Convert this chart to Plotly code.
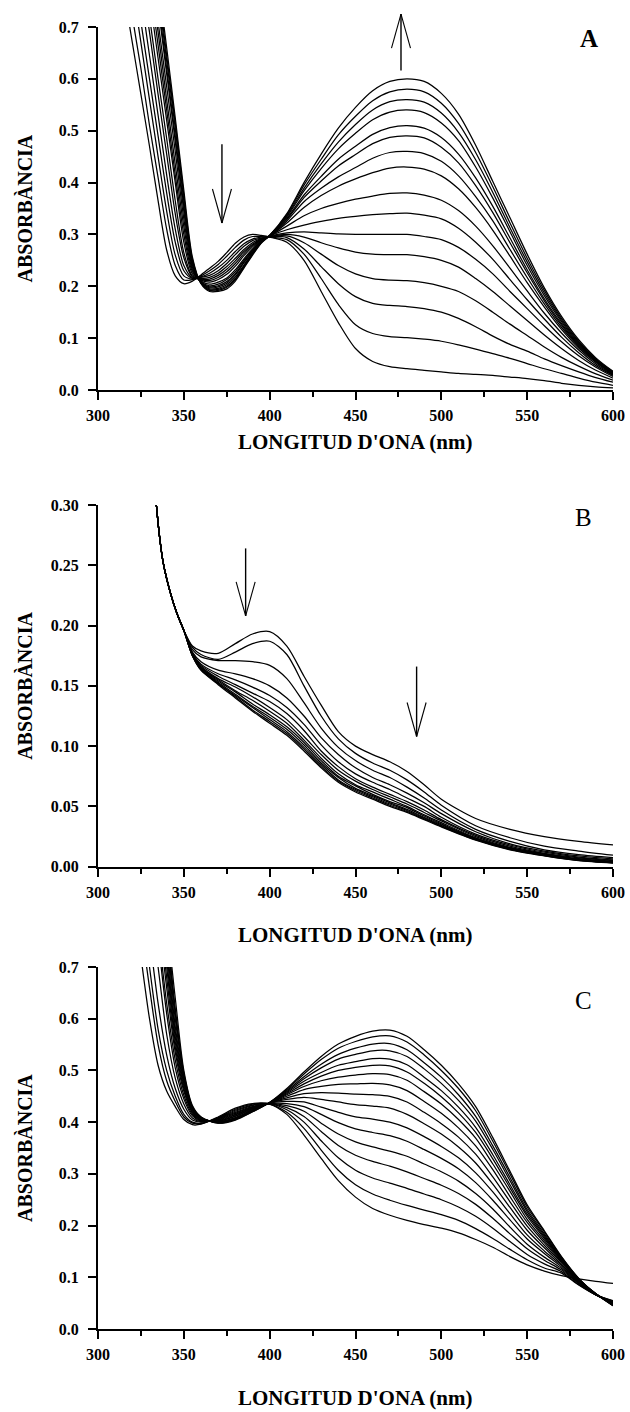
import plotly.graph_objects as go

# ---------------- Panel A : spectra (absorbance vs wavelength) ----------------
WAVELENGTH_A = [315, 320, 325, 330, 335, 340, 345, 350, 355,
                360, 365, 370, 375, 380, 385, 390, 395, 400,
                410, 420, 430, 440, 450, 460, 470, 480, 490, 500,
                510, 520, 530, 540, 550, 560, 570, 580, 590, 600]

SPECTRA_A = [
    [0.77, 0.67, 0.57, 0.47, 0.365, 0.27, 0.22, 0.205, 0.21,
     0.222, 0.235, 0.248, 0.265, 0.283, 0.295, 0.300, 0.298, 0.295,
     0.285, 0.250, 0.190, 0.130, 0.080, 0.055, 0.045, 0.041, 0.038, 0.035,
     0.032, 0.030, 0.028, 0.025, 0.022, 0.018, 0.013, 0.009, 0.006, 0.004],
    [0.83, 0.72, 0.62, 0.51, 0.41, 0.31, 0.24, 0.212, 0.213,
     0.220, 0.230, 0.242, 0.258, 0.275, 0.289, 0.296, 0.296, 0.295,
     0.290, 0.262, 0.215, 0.165, 0.126, 0.109, 0.103, 0.101, 0.098, 0.094,
     0.087, 0.079, 0.070, 0.061, 0.051, 0.041, 0.032, 0.023, 0.015, 0.009],
    [0.89, 0.78, 0.67, 0.56, 0.45, 0.345, 0.26, 0.22, 0.214,
     0.218, 0.225, 0.236, 0.250, 0.267, 0.282, 0.291, 0.295, 0.296,
     0.294, 0.272, 0.238, 0.205, 0.180, 0.167, 0.163, 0.161, 0.157, 0.150,
     0.138, 0.122, 0.104, 0.088, 0.075, 0.060, 0.047, 0.035, 0.024, 0.015],
    [0.93, 0.82, 0.71, 0.60, 0.49, 0.38, 0.285, 0.23, 0.215,
     0.217, 0.221, 0.230, 0.244, 0.261, 0.277, 0.288, 0.293, 0.296,
     0.297, 0.284, 0.262, 0.240, 0.224, 0.215, 0.212, 0.211, 0.207, 0.200,
     0.190, 0.172, 0.150, 0.127, 0.105, 0.083, 0.063, 0.046, 0.031, 0.019],
    [0.98, 0.87, 0.76, 0.645, 0.53, 0.415, 0.31, 0.24, 0.216,
     0.215, 0.217, 0.225, 0.238, 0.254, 0.271, 0.284, 0.292, 0.296,
     0.300, 0.295, 0.284, 0.274, 0.266, 0.262, 0.261, 0.261, 0.257, 0.250,
     0.237, 0.215, 0.190, 0.162, 0.134, 0.106, 0.080, 0.057, 0.038, 0.023],
    [1.03, 0.92, 0.80, 0.69, 0.57, 0.455, 0.34, 0.255, 0.218,
     0.214, 0.214, 0.221, 0.233, 0.249, 0.267, 0.281, 0.291, 0.297,
     0.303, 0.305, 0.303, 0.301, 0.300, 0.300, 0.300, 0.300, 0.296, 0.290,
     0.275, 0.252, 0.224, 0.190, 0.157, 0.124, 0.093, 0.066, 0.044, 0.026],
    [1.08, 0.96, 0.84, 0.72, 0.60, 0.485, 0.365, 0.265, 0.22,
     0.213, 0.211, 0.217, 0.228, 0.244, 0.263, 0.279, 0.290, 0.297,
     0.309, 0.318, 0.325, 0.331, 0.335, 0.338, 0.340, 0.341, 0.337, 0.330,
     0.312, 0.285, 0.252, 0.213, 0.174, 0.137, 0.102, 0.072, 0.047, 0.028],
    [1.12, 1.00, 0.88, 0.76, 0.64, 0.52, 0.40, 0.285, 0.224,
     0.212, 0.208, 0.213, 0.223, 0.239, 0.259, 0.276, 0.289, 0.297,
     0.316, 0.336, 0.350, 0.360, 0.368, 0.374, 0.379, 0.380, 0.376, 0.366,
     0.346, 0.316, 0.278, 0.235, 0.191, 0.148, 0.110, 0.077, 0.050, 0.029],
    [1.15, 1.03, 0.91, 0.79, 0.665, 0.54, 0.415, 0.30, 0.228,
     0.210, 0.204, 0.208, 0.216, 0.232, 0.253, 0.272, 0.288, 0.297,
     0.322, 0.352, 0.375, 0.393, 0.407, 0.419, 0.428, 0.430, 0.426, 0.413,
     0.388, 0.352, 0.308, 0.258, 0.207, 0.160, 0.117, 0.081, 0.053, 0.030],
    [1.17, 1.05, 0.93, 0.81, 0.69, 0.56, 0.435, 0.315, 0.232,
     0.209, 0.201, 0.204, 0.213, 0.228, 0.250, 0.270, 0.287, 0.297,
     0.326, 0.363, 0.389, 0.411, 0.429, 0.447, 0.458, 0.460, 0.456, 0.441,
     0.413, 0.373, 0.326, 0.271, 0.217, 0.166, 0.121, 0.084, 0.055, 0.031],
    [1.20, 1.08, 0.96, 0.835, 0.71, 0.585, 0.46, 0.33, 0.236,
     0.208, 0.199, 0.201, 0.209, 0.224, 0.247, 0.268, 0.286, 0.297,
     0.329, 0.371, 0.403, 0.432, 0.454, 0.475, 0.487, 0.490, 0.486, 0.468,
     0.438, 0.394, 0.342, 0.284, 0.226, 0.172, 0.125, 0.086, 0.056, 0.032],
    [1.22, 1.10, 0.98, 0.86, 0.74, 0.61, 0.48, 0.345, 0.24,
     0.208, 0.197, 0.199, 0.206, 0.222, 0.245, 0.266, 0.285, 0.298,
     0.331, 0.376, 0.412, 0.445, 0.470, 0.493, 0.506, 0.510, 0.505, 0.487,
     0.455, 0.409, 0.354, 0.293, 0.232, 0.176, 0.128, 0.088, 0.057, 0.033],
    [1.23, 1.11, 0.99, 0.87, 0.75, 0.62, 0.49, 0.355, 0.244,
     0.207, 0.195, 0.196, 0.203, 0.218, 0.241, 0.264, 0.285, 0.298,
     0.334, 0.384, 0.427, 0.465, 0.495, 0.521, 0.536, 0.540, 0.535, 0.515,
     0.481, 0.430, 0.370, 0.305, 0.240, 0.182, 0.132, 0.090, 0.058, 0.034],
    [1.24, 1.12, 1.00, 0.88, 0.765, 0.635, 0.505, 0.365, 0.248,
     0.206, 0.193, 0.194, 0.200, 0.215, 0.239, 0.263, 0.284, 0.298,
     0.336, 0.389, 0.436, 0.478, 0.512, 0.540, 0.556, 0.560, 0.555, 0.534,
     0.497, 0.444, 0.381, 0.313, 0.247, 0.187, 0.135, 0.092, 0.059, 0.034],
    [1.25, 1.13, 1.01, 0.89, 0.78, 0.645, 0.515, 0.375, 0.252,
     0.206, 0.192, 0.192, 0.198, 0.213, 0.237, 0.261, 0.284, 0.298,
     0.338, 0.395, 0.445, 0.492, 0.528, 0.558, 0.575, 0.580, 0.575, 0.553,
     0.514, 0.458, 0.392, 0.322, 0.254, 0.192, 0.138, 0.094, 0.060, 0.035],
    [1.26, 1.14, 1.02, 0.90, 0.79, 0.66, 0.525, 0.385, 0.256,
     0.205, 0.190, 0.190, 0.195, 0.210, 0.235, 0.260, 0.283, 0.298,
     0.340, 0.400, 0.455, 0.505, 0.545, 0.577, 0.595, 0.600, 0.595, 0.572,
     0.532, 0.472, 0.402, 0.332, 0.262, 0.197, 0.142, 0.097, 0.062, 0.036],
]

# ---------------- Panel B ----------------
WAVELENGTH_B = [332, 334, 336, 338, 342, 346, 350,
                355, 360, 370, 380, 390, 400, 410, 420, 430, 440, 450,
                460, 470, 480, 490, 500, 520, 540, 560, 580, 600]

# every spectrum in B follows the same steep edge below 350 nm
B_SHARED_EDGE = [0.335, 0.300, 0.272, 0.252, 0.228, 0.210, 0.196]

SPECTRA_B_TAILS = [
    [0.183, 0.179, 0.177, 0.185, 0.193, 0.195, 0.183, 0.158, 0.134, 0.112, 0.100,
     0.093, 0.087, 0.079, 0.068, 0.056, 0.040, 0.031, 0.025, 0.021, 0.018],
    [0.182, 0.176, 0.172, 0.178, 0.185, 0.187, 0.176, 0.150, 0.125, 0.106, 0.094,
     0.086, 0.080, 0.072, 0.062, 0.051, 0.034, 0.024, 0.017, 0.013, 0.0095],
    [0.180, 0.174, 0.171, 0.171, 0.170, 0.167, 0.156, 0.136, 0.115, 0.099, 0.088,
     0.080, 0.074, 0.066, 0.057, 0.047, 0.031, 0.021, 0.014, 0.010, 0.0075],
    [0.178, 0.170, 0.163, 0.160, 0.156, 0.150, 0.140, 0.125, 0.107, 0.093, 0.082,
     0.074, 0.068, 0.061, 0.053, 0.044, 0.029, 0.019, 0.013, 0.009, 0.0065],
    [0.177, 0.168, 0.160, 0.155, 0.149, 0.142, 0.132, 0.118, 0.101, 0.087, 0.077,
     0.070, 0.064, 0.057, 0.050, 0.041, 0.027, 0.018, 0.012, 0.008, 0.0056],
    [0.177, 0.167, 0.158, 0.151, 0.144, 0.137, 0.127, 0.113, 0.096, 0.083, 0.073,
     0.066, 0.060, 0.054, 0.047, 0.039, 0.026, 0.017, 0.011, 0.0073, 0.005],
    [0.176, 0.166, 0.156, 0.149, 0.141, 0.132, 0.122, 0.108, 0.093, 0.080, 0.071,
     0.064, 0.058, 0.052, 0.045, 0.038, 0.025, 0.016, 0.0107, 0.0067, 0.0045],
    [0.176, 0.165, 0.155, 0.146, 0.138, 0.129, 0.119, 0.105, 0.090, 0.077, 0.068,
     0.062, 0.056, 0.050, 0.043, 0.0365, 0.024, 0.0156, 0.0103, 0.0063, 0.0041],
    [0.176, 0.165, 0.154, 0.145, 0.135, 0.126, 0.116, 0.103, 0.088, 0.075, 0.067,
     0.060, 0.054, 0.049, 0.042, 0.0355, 0.0236, 0.0151, 0.0099, 0.0059, 0.0038],
    [0.175, 0.164, 0.153, 0.143, 0.133, 0.124, 0.114, 0.101, 0.086, 0.074, 0.065,
     0.059, 0.053, 0.0475, 0.041, 0.0348, 0.0231, 0.0148, 0.0096, 0.0056, 0.0036],
    [0.175, 0.164, 0.152, 0.142, 0.132, 0.122, 0.112, 0.099, 0.0845, 0.072, 0.064,
     0.058, 0.052, 0.0466, 0.0404, 0.0341, 0.0227, 0.0145, 0.0094, 0.0054, 0.0034],
    [0.175, 0.163, 0.152, 0.141, 0.130, 0.1205, 0.1105, 0.0975, 0.083, 0.071, 0.063,
     0.057, 0.051, 0.0458, 0.0397, 0.0335, 0.0224, 0.0143, 0.0092, 0.0052, 0.0032],
    [0.175, 0.163, 0.151, 0.140, 0.129, 0.119, 0.109, 0.096, 0.082, 0.070, 0.062,
     0.056, 0.050, 0.045, 0.039, 0.033, 0.022, 0.014, 0.009, 0.005, 0.003],
]

# ---------------- Panel C ----------------
WAVELENGTH_C = [325, 330, 335, 340, 345, 350, 355,
                360, 370, 380, 390, 400,
                410, 420, 430, 440, 450, 460, 470, 480, 490, 500,
                510, 520, 530, 540, 550, 560, 570, 580, 590, 600]

SPECTRA_C = [
    [0.72, 0.60, 0.51, 0.46, 0.43, 0.405, 0.395,
     0.396, 0.410, 0.427, 0.436, 0.435,
     0.415, 0.375, 0.330, 0.287, 0.255, 0.233, 0.220, 0.210, 0.202, 0.195,
     0.186, 0.173, 0.158, 0.140, 0.124, 0.112, 0.103, 0.097, 0.092, 0.088],
    [0.78, 0.66, 0.55, 0.48, 0.44, 0.41, 0.398,
     0.397, 0.409, 0.425, 0.435, 0.435,
     0.419, 0.388, 0.346, 0.307, 0.279, 0.261, 0.249, 0.239, 0.230, 0.221,
     0.210, 0.194, 0.175, 0.154, 0.134, 0.118, 0.108, 0.085, 0.066, 0.055],
    [0.83, 0.70, 0.58, 0.50, 0.45, 0.415, 0.40,
     0.398, 0.408, 0.423, 0.433, 0.436,
     0.424, 0.400, 0.364, 0.331, 0.307, 0.292, 0.282, 0.272, 0.261, 0.250,
     0.236, 0.218, 0.195, 0.169, 0.144, 0.126, 0.111, 0.086, 0.066, 0.054],
    [0.89, 0.76, 0.63, 0.53, 0.465, 0.425, 0.404,
     0.400, 0.407, 0.421, 0.432, 0.436,
     0.428, 0.411, 0.382, 0.355, 0.336, 0.324, 0.315, 0.304, 0.291, 0.278,
     0.262, 0.241, 0.214, 0.184, 0.155, 0.133, 0.114, 0.088, 0.066, 0.053],
    [0.95, 0.82, 0.70, 0.57, 0.485, 0.435, 0.408,
     0.401, 0.406, 0.419, 0.430, 0.436,
     0.432, 0.421, 0.398, 0.377, 0.362, 0.352, 0.344, 0.334, 0.319, 0.304,
     0.286, 0.262, 0.232, 0.197, 0.164, 0.139, 0.117, 0.089, 0.066, 0.052],
    [1.00, 0.87, 0.75, 0.61, 0.505, 0.445, 0.412,
     0.402, 0.405, 0.417, 0.429, 0.436,
     0.436, 0.430, 0.415, 0.399, 0.387, 0.380, 0.374, 0.363, 0.347, 0.330,
     0.310, 0.283, 0.249, 0.211, 0.174, 0.146, 0.120, 0.090, 0.067, 0.051],
    [1.03, 0.90, 0.77, 0.63, 0.52, 0.452, 0.415,
     0.403, 0.404, 0.415, 0.428, 0.437,
     0.440, 0.439, 0.429, 0.419, 0.410, 0.406, 0.400, 0.389, 0.372, 0.353,
     0.331, 0.302, 0.265, 0.223, 0.182, 0.151, 0.123, 0.091, 0.067, 0.050],
    [1.06, 0.93, 0.80, 0.66, 0.535, 0.46, 0.418,
     0.404, 0.403, 0.414, 0.427, 0.437,
     0.444, 0.448, 0.444, 0.439, 0.434, 0.431, 0.427, 0.415, 0.397, 0.377,
     0.352, 0.321, 0.280, 0.235, 0.191, 0.157, 0.125, 0.092, 0.067, 0.050],
    [1.08, 0.95, 0.82, 0.68, 0.545, 0.465, 0.42,
     0.405, 0.402, 0.412, 0.426, 0.437,
     0.447, 0.455, 0.457, 0.456, 0.454, 0.453, 0.450, 0.439, 0.419, 0.397,
     0.371, 0.338, 0.294, 0.246, 0.199, 0.162, 0.128, 0.093, 0.067, 0.049],
    [1.10, 0.97, 0.84, 0.70, 0.555, 0.47, 0.422,
     0.406, 0.402, 0.411, 0.425, 0.437,
     0.450, 0.463, 0.469, 0.473, 0.474, 0.475, 0.472, 0.461, 0.440, 0.417,
     0.389, 0.354, 0.308, 0.256, 0.206, 0.167, 0.130, 0.094, 0.067, 0.048],
    [1.11, 0.98, 0.85, 0.715, 0.565, 0.475, 0.424,
     0.407, 0.401, 0.409, 0.424, 0.437,
     0.453, 0.469, 0.480, 0.487, 0.491, 0.494, 0.492, 0.481, 0.459, 0.435,
     0.405, 0.369, 0.319, 0.266, 0.212, 0.171, 0.132, 0.095, 0.067, 0.048],
    [1.12, 0.99, 0.86, 0.73, 0.575, 0.48, 0.426,
     0.407, 0.400, 0.408, 0.423, 0.437,
     0.455, 0.474, 0.489, 0.500, 0.506, 0.510, 0.509, 0.497, 0.475, 0.449,
     0.418, 0.380, 0.329, 0.273, 0.218, 0.175, 0.133, 0.095, 0.068, 0.047],
    [1.13, 1.00, 0.87, 0.745, 0.585, 0.485, 0.427,
     0.408, 0.400, 0.408, 0.422, 0.438,
     0.457, 0.479, 0.496, 0.510, 0.517, 0.523, 0.522, 0.511, 0.487, 0.461,
     0.429, 0.390, 0.337, 0.279, 0.222, 0.178, 0.135, 0.096, 0.068, 0.047],
    [1.14, 1.01, 0.88, 0.76, 0.60, 0.49, 0.428,
     0.408, 0.399, 0.407, 0.422, 0.438,
     0.459, 0.484, 0.505, 0.522, 0.531, 0.538, 0.538, 0.527, 0.503, 0.475,
     0.442, 0.402, 0.347, 0.287, 0.227, 0.181, 0.136, 0.096, 0.068, 0.046],
    [1.15, 1.02, 0.89, 0.77, 0.61, 0.492, 0.429,
     0.409, 0.399, 0.406, 0.421, 0.438,
     0.461, 0.488, 0.512, 0.531, 0.543, 0.551, 0.552, 0.540, 0.515, 0.487,
     0.453, 0.411, 0.354, 0.293, 0.231, 0.184, 0.137, 0.097, 0.068, 0.046],
    [1.16, 1.03, 0.90, 0.78, 0.62, 0.495, 0.43,
     0.410, 0.398, 0.405, 0.420, 0.438,
     0.463, 0.493, 0.521, 0.543, 0.556, 0.565, 0.567, 0.555, 0.530, 0.500,
     0.465, 0.422, 0.363, 0.300, 0.236, 0.188, 0.139, 0.098, 0.068, 0.045],
    [1.20, 1.04, 0.91, 0.79, 0.64, 0.50, 0.432,
     0.410, 0.398, 0.404, 0.420, 0.438,
     0.465, 0.497, 0.527, 0.551, 0.566, 0.576, 0.578, 0.566, 0.540, 0.510,
     0.474, 0.430, 0.370, 0.305, 0.240, 0.190, 0.140, 0.098, 0.068, 0.045],
]

# ---------------- axes, labels, arrows ----------------
X_RANGE = [300, 600]
X_TICKS = [300, 350, 400, 450, 500, 550, 600]
Y_RANGE_A = [0, 0.7]
Y_RANGE_B = [0, 0.30]
Y_RANGE_C = [0, 0.7]
Y_DTICK_AC = 0.1
Y_DTICK_B = 0.05

X_TITLE = "LONGITUD D'ONA (nm)"
Y_TITLE = "ABSORBÀNCIA"
PANEL_LETTERS = ["A", "B", "C"]

# (wavelength, absorbance at tail, absorbance at tip)
ARROWS_A = [(372.2, 0.474, 0.322), (476.5, 0.616, 0.725)]
ARROWS_B = [(386.0, 0.264, 0.208), (485.6, 0.166, 0.108)]

W, H = 630, 1412
X_DOMAIN = [98 / W, 613 / W]
# pixel rows (top, bottom) of each plotting area
PANEL_ROWS = [(27, 390), (505, 866.7), (967, 1329)]
TITLE_ROWS = [442, 935, 1398]
LETTER_POS = [(586, 0.678), (583, 0.290), (583, 0.636)]

FONT = "Liberation Serif"
TICK_FONT = dict(family=FONT, size=16, color="black", weight="bold")


def paper_y(py):
    return (H - py) / H


fig = go.Figure()

panels = [
    (WAVELENGTH_A, SPECTRA_A, Y_RANGE_A, Y_DTICK_AC, ".1f"),
    (WAVELENGTH_B, [B_SHARED_EDGE + tail for tail in SPECTRA_B_TAILS], Y_RANGE_B, Y_DTICK_B, ".2f"),
    (WAVELENGTH_C, SPECTRA_C, Y_RANGE_C, Y_DTICK_AC, ".1f"),
]

layout_axes = {}
for i, (wl, spectra, yr, dtick, yfmt) in enumerate(panels):
    n = "" if i == 0 else str(i + 1)
    for spec in spectra:
        fig.add_trace(go.Scatter(
            x=wl, y=spec, mode="lines",
            line=dict(color="black", width=1.25, shape="spline", smoothing=0.8),
            xaxis="x" + n, yaxis="y" + n, hoverinfo="skip", showlegend=False,
        ))
    top, bottom = PANEL_ROWS[i]
    layout_axes["xaxis" + n] = dict(
        domain=X_DOMAIN, anchor="y" + n, range=X_RANGE, tickvals=X_TICKS,
        ticks="outside", ticklen=8, tickwidth=1.5, tickcolor="black",
        showline=True, linecolor="black", linewidth=2,
        showgrid=False, zeroline=False, tickfont=TICK_FONT,
        ticklabelstandoff=2, automargin=False,
        minor=dict(tick0=300, dtick=25, ticks="outside", ticklen=5,
                   tickwidth=1.5, tickcolor="black", showgrid=False),
    )
    layout_axes["yaxis" + n] = dict(
        domain=[paper_y(bottom), paper_y(top)], anchor="x" + n, range=yr,
        tick0=0, dtick=dtick, tickformat=yfmt,
        ticks="outside", ticklen=8, tickwidth=1.5, tickcolor="black",
        showline=True, linecolor="black", linewidth=2,
        showgrid=False, zeroline=False, tickfont=TICK_FONT,
        ticklabelstandoff=6, automargin=False,
    )

annotations = []
shapes = []
for i in range(3):
    n = "" if i == 0 else str(i + 1)
    top, bottom = PANEL_ROWS[i]
    annotations.append(dict(
        text=Y_TITLE, textangle=-90, xref="paper", yref="paper",
        x=25 / W, y=paper_y((top + bottom) / 2), xanchor="center", yanchor="middle",
        showarrow=False, font=dict(family=FONT, size=20, color="black", weight="bold"),
    ))
    annotations.append(dict(
        text=X_TITLE, xref="x" + n + " domain", yref="paper",
        x=0.5, y=paper_y(TITLE_ROWS[i]), xanchor="center", yanchor="middle",
        showarrow=False, font=dict(family=FONT, size=21, color="black", weight="bold"),
    ))
    lx, ly = LETTER_POS[i]
    annotations.append(dict(
        text=PANEL_LETTERS[i], xref="x" + n, yref="y" + n, x=lx, y=ly,
        xanchor="center", yanchor="middle", showarrow=False,
        font=dict(family=FONT, size=25, color="black",
                  weight="bold" if i == 0 else "normal"),
    ))

# arrows: shaft + open V head, placed in axis-domain units so they are not clipped
ARM_DX = 9.5 / 515
for n, arrows, yr, (top, bottom) in [("", ARROWS_A, Y_RANGE_A, PANEL_ROWS[0]),
                                     ("2", ARROWS_B, Y_RANGE_B, PANEL_ROWS[1])]:
    arm_dy = 34 / (bottom - top)
    for wl, a_tail, a_tip in arrows:
        xd = (wl - X_RANGE[0]) / (X_RANGE[1] - X_RANGE[0])
        yt = a_tail / yr[1]
        yp = a_tip / yr[1]
        s = 1 if yp > yt else -1
        ref = dict(xref="x" + n + " domain", yref="y" + n + " domain")
        shapes.append(dict(type="line", x0=xd, x1=xd, y0=yt, y1=yp,
                           line=dict(color="black", width=1.4), **ref))
        for side in (-1, 1):
            shapes.append(dict(type="line", x0=xd + side * ARM_DX, y0=yp - s * arm_dy,
                               x1=xd, y1=yp, line=dict(color="black", width=1.1), **ref))

fig.update_layout(
    width=W, height=H, margin=dict(l=0, r=0, t=0, b=0),
    paper_bgcolor="white", plot_bgcolor="white", showlegend=False,
    annotations=annotations, shapes=shapes, **layout_axes,
)

fig.write_html("out.html")
